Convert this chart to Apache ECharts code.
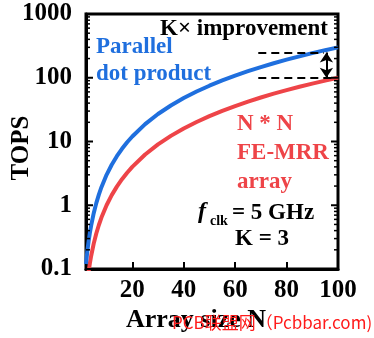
<!DOCTYPE html>
<html>
<head>
<meta charset="utf-8">
<script src="https://cdn.jsdelivr.net/npm/echarts@6/dist/echarts.min.js"></script>
<style>
  html, body { margin: 0; padding: 0; background: #fff; }
  #chart { width: 374px; height: 338px; }
</style>
</head>
<body>
<div id="chart"></div>
<script>
// Array size N and throughput (TOPS) of the two architectures
const arraySize = [2, 2.5, 3, 3.5, 4, 5, 6, 7, 8, 10, 12, 14, 16, 18, 20, 25, 30, 35, 40, 45, 50, 55, 60, 65, 70, 75, 80, 85, 90, 95, 100];
const feMrrTops = [0.04, 0.0625, 0.09, 0.1225, 0.16, 0.25, 0.36, 0.49, 0.64, 1, 1.44, 1.96, 2.56, 3.24, 4, 6.25, 9, 12.25, 16, 20.25, 25, 30.25, 36, 42.25, 49, 56.25, 64, 72.25, 81, 90.25, 100];
const dotProductTops = [0.12, 0.1875, 0.27, 0.3675, 0.48, 0.75, 1.08, 1.47, 1.92, 3, 4.32, 5.88, 7.68, 9.72, 12, 18.75, 27, 36.75, 48, 60.75, 75, 90.75, 108, 126.75, 147, 168.75, 192, 216.75, 243, 270.75, 300];

// Axis ranges and tick labels
const xRange = [2, 100];
const xTickLabels = [20, 40, 60, 80, 100];
const yRange = [0.1, 1000];
const yDecades = [0.1, 1, 10, 100, 1000];

// Levels of the K× improvement bracket at the right edge
const bracketUpper = 250;
const bracketLower = 100;
const bracketX = [69, 95.5];

const BLUE = '#1f6fde';
const RED = '#ee4448';
const SERIF = '"Liberation Serif", "Times New Roman", serif';

const chart = echarts.init(document.getElementById('chart'), null, { renderer: 'canvas' });

function textEl(text, x, y, font, fill, align, extra) {
  return Object.assign({ type: 'text', x: x, y: y, z: 10,
    style: { text: text, font: font, fill: fill, align: align || 'left', verticalAlign: 'middle' } }, extra || {});
}

const labels = [
  textEl('TOPS', 22, 148, 'bold 25px ' + SERIF, '#000', 'center', { rotation: Math.PI / 2 }),
  textEl('Array size N', 196, 320, 'bold 26px ' + SERIF, '#000', 'center'),
  textEl('K× improvement', 160, 29, 'bold 23px ' + SERIF, '#000'),
  textEl('Parallel', 96, 47, 'bold 23px ' + SERIF, BLUE),
  textEl('dot product', 96, 74, 'bold 23px ' + SERIF, BLUE),
  textEl('N * N', 237, 124, 'bold 23px ' + SERIF, RED),
  textEl('FE-MRR', 237, 153, 'bold 23px ' + SERIF, RED),
  textEl('array', 237, 182, 'bold 23px ' + SERIF, RED),
  textEl('f', 198, 212, 'italic bold 24px ' + SERIF, '#000'),
  textEl('clk', 210, 221, 'bold 14px ' + SERIF, '#000'),
  textEl('= 5 GHz', 232, 213, 'bold 23px ' + SERIF, '#000'),
  textEl('K = 3', 262, 239, 'bold 23px ' + SERIF, '#000', 'center'),
  textEl('PCB联盟网（Pcbbar.com)', 172, 323, '17px "Noto Sans CJK SC", sans-serif', '#ff1a1a', 'left', { z: 20 })
];

chart.setOption({
  animation: false,
  backgroundColor: '#fff',
  grid: {
    left: 86, right: 36, top: 14, bottom: 69,
    show: true, borderColor: '#000', borderWidth: 3
  },
  xAxis: {
    type: 'value',
    min: xRange[0], max: xRange[1],
    splitNumber: 5,
    axisLine: { show: true, onZero: false, lineStyle: { color: '#000', width: 3 } },
    axisTick: { show: true, inside: true, length: 7, lineStyle: { color: '#000', width: 2 } },
    splitLine: { show: false },
    axisLabel: {
      showMinLabel: false,
      margin: 9,
      color: '#000',
      fontFamily: SERIF, fontWeight: 'bold', fontSize: 25,
      formatter: v => (xTickLabels.indexOf(v) >= 0 ? String(v) : '')
    }
  },
  yAxis: {
    type: 'log',
    logBase: 10,
    min: yRange[0], max: yRange[1],
    axisLine: { show: true, lineStyle: { color: '#000', width: 3 } },
    axisTick: { show: false },
    splitLine: { show: false },
    axisLabel: {
      margin: 14,
      color: '#000',
      fontFamily: SERIF, fontWeight: 'bold', fontSize: 25,
      formatter: v => String(v)
    }
  },
  series: [
    {
      name: 'N * N FE-MRR array',
      type: 'line',
      data: arraySize.map((n, i) => [n, feMrrTops[i]]),
      showSymbol: false,
      clip: true,
      lineStyle: { color: RED, width: 4 },
      z: 3
    },
    {
      name: 'Parallel dot product',
      type: 'line',
      data: arraySize.map((n, i) => [n, dotProductTops[i]]),
      showSymbol: false,
      clip: true,
      lineStyle: { color: BLUE, width: 4 },
      z: 4,
      markLine: {
        silent: true,
        symbol: 'none',
        animation: false,
        label: { show: false },
        lineStyle: { color: '#000', width: 2, type: [8, 5] },
        data: [
          [{ coord: [bracketX[0], bracketUpper] }, { coord: [bracketX[1] - 1, bracketUpper] }],
          [{ coord: [bracketX[0], bracketLower] }, { coord: [xRange[1] - 2, bracketLower] }]
        ]
      }
    },
    {
      type: 'line',
      data: [],
      markLine: {
        silent: true,
        symbol: ['arrow', 'arrow'],
        symbolSize: [10, 10],
        animation: false,
        label: { show: false },
        lineStyle: { color: '#000', width: 2, type: 'solid' },
        data: [
          [{ coord: [bracketX[1], bracketUpper] }, { coord: [bracketX[1], bracketLower] }]
        ]
      }
    }
  ],
  graphic: labels
});

// Log-scale ticks on the left and right frame edges: major at decades, minor at 2..9
const ticks = [];
const xLeft = chart.convertToPixel({ gridIndex: 0 }, [xRange[0], yRange[0]])[0];
const xRight = chart.convertToPixel({ gridIndex: 0 }, [xRange[1], yRange[0]])[0];
const addTick = (v, major) => {
  const y = chart.convertToPixel({ gridIndex: 0 }, [xRange[0], v])[1];
  const len = major ? 7 : 4;
  const w = major ? 2 : 1.5;
  ticks.push({ type: 'line', z: 5, silent: true, shape: { x1: xLeft, y1: y, x2: xLeft + len, y2: y }, style: { stroke: '#000', lineWidth: w } });
  ticks.push({ type: 'line', z: 5, silent: true, shape: { x1: xRight, y1: y, x2: xRight - len, y2: y }, style: { stroke: '#000', lineWidth: w } });
};
yDecades.forEach((d, i) => {
  addTick(d, true);
  if (i < yDecades.length - 1) {
    for (let m = 2; m <= 9; m++) addTick(d * m, false);
  }
});
chart.setOption({ graphic: labels.concat(ticks) });
</script>
</body>
</html>
